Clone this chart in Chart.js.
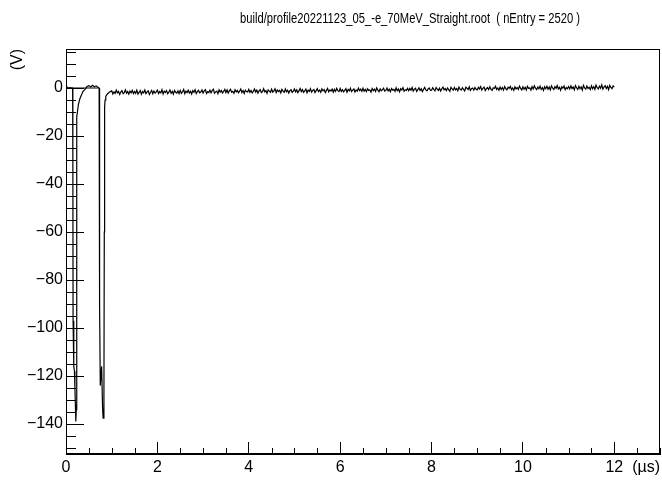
<!DOCTYPE html>
<html>
<head>
<meta charset="utf-8">
<script src="https://cdn.jsdelivr.net/npm/chart.js@4/dist/chart.umd.min.js"></script>
<style>
  body { margin: 0; background: #fff; }
  canvas { display: block; }
</style>
</head>
<body>
<canvas id="waveChart" width="662" height="480"></canvas>
<script>
// pulse region (time in us, amplitude in V)
const pulseTimes = [0, 0.01, 0.03, 0.06, 0.09, 0.12, 0.145, 0.15, 0.155, 0.165, 0.175, 0.185, 0.195, 0.205, 0.215, 0.225,
  0.232, 0.238, 0.25, 0.27, 0.3, 0.33, 0.37, 0.42, 0.46, 0.5, 0.54, 0.58, 0.62, 0.66, 0.7, 0.725, 0.735, 0.75, 0.78,
  0.8, 0.812, 0.83, 0.838, 0.845, 0.855, 0.87, 0.9, 0.94, 0.97];
const pulseValues = [1.2, 0.8, 0.1, 0, 0.2, 0, 0, -30, -97, -105, -116, -118, -125, -132, -139, -134,
  -70, -12, -10, -7, -4.7, -3.2, -1.5, -0.5, 0.6, 1.0, 0.4, 1.1, 0.5, 0.9, 0.3, 0, -90, -124, -116,
  -133, -137.6, -130, -60, -8, -5, -3.5, -2.6, -1.9, -1.5];

// flat pedestal segment drawn under the first pulse
const pedTimes = [0, 0.72];
const pedValues = [0, 0];

// tail after the pulses, one sample every 0.025 us starting at 1.0 us
const tailStart = 1.0;
const tailStep = 0.025;
const tailValues = [
  -1.2, -2.5, -1.6, -2.3, -0.9, -2.0, -1.4, -2.7, -1.7, -1.1, -2.4, -1.9, -0.8, -2.2, -1.5, -2.6, -1.3, -2.0, -1.0, -2.3,
  -1.4, -2.2, -0.9, -2.5, -1.8, -1.1, -2.6, -1.5, -2.0, -0.8, -2.3, -1.6, -1.2, -2.7, -1.9, -1.0, -2.4, -1.3, -2.1, -1.6,
  -0.9, -2.3, -1.5, -2.0, -0.7, -2.5, -1.3, -1.9, -1.1, -2.4, -1.7, -0.8, -2.2, -1.4, -2.6, -1.0, -1.8, -2.1, -1.2, -2.3,
  -1.0, -2.2, -1.6, -0.6, -2.4, -1.3, -1.9, -0.9, -2.1, -1.4, -2.5, -1.1, -1.8, -0.7, -2.3, -1.5, -1.0, -2.0, -1.7, -0.8,
  -2.1, -1.2, -0.7, -2.3, -1.5, -1.9, -0.9, -2.0, -1.1, -0.5, -2.2, -1.6, -1.3, -2.4, -0.8, -1.7, -1.0, -2.1, -1.4, -0.6,
  -1.9, -0.8, -2.1, -1.2, -0.5, -1.8, -1.4, -2.2, -0.7, -1.6, -1.0, -2.0, -1.3, -0.4, -1.9, -1.1, -2.3, -0.9, -1.5, -1.7,
  -0.6, -1.8, -1.0, -2.0, -1.4, -0.4, -1.7, -0.9, -2.1, -1.2, -0.7, -1.9, -1.5, -0.3, -1.6, -1.1, -2.2, -0.8, -1.3, -1.8,
  -0.5, -1.7, -1.2, -0.3, -1.9, -0.8, -1.5, -1.0, -2.0, -0.6, -1.3, -1.8, -0.4, -1.6, -0.9, -2.1, -1.1, -0.7, -1.8, -1.3,
  -0.4, -1.6, -0.8, -1.9, -1.1, -0.2, -1.5, -0.7, -1.8, -1.2, -0.5, -2.0, -0.9, -1.4, -0.3, -1.7, -1.0, -0.6, -1.9, -1.1,
  -0.3, -1.5, -0.9, -1.8, -0.4, -1.2, -0.7, -1.9, -1.0, -0.2, -1.6, -0.8, -1.3, -0.5, -1.7, -0.6, -1.4, -0.1, -1.1, -1.5,
  -0.2, -1.4, -0.7, -1.6, -1.0, -0.3, -1.8, -0.6, -1.2, -0.1, -1.5, -0.9, -0.4, -1.7, -0.8, -1.3, 0.0, -1.1, -0.5, -1.4,
  -0.1, -1.3, -0.6, -1.5, -0.3, -1.0, -0.8, -1.7, -0.2, -1.1, -0.5, -1.4, 0.1, -0.9, -1.6, -0.4, -1.2, -0.7, -0.1, -1.3,
  -1.0, 0.0, -1.2, -0.5, -1.5, -0.2, -0.9, -0.6, -1.4, 0.1, -1.1, -0.4, -1.6, -0.3, -0.8, 0.2, -1.3, -0.7, -1.0, -0.1,
  -1.1, -0.2, -0.9, 0.2, -1.3, -0.5, -0.1, -1.4, -0.7, 0.1, -1.0, -0.3, -1.5, -0.6, 0.3, -0.8, -1.2, -0.4, 0.0, -1.0,
  -0.9, 0.1, -0.6, -1.2, 0.2, -0.5, -1.0, -0.1, -1.3, -0.3, 0.4, -0.8, -0.2, -1.1, 0.0, -0.7, -1.4, 0.3, -0.4, -0.9,
  0.2, -0.8, -0.2, -1.1, 0.4, -0.5, -0.9, 0.1, -0.6, -1.2, 0.3, -0.1, -0.7, 0.5, -1.0, -0.3, 0.0, -0.9, 0.2, -0.5,
  -0.8, 0.3, -0.4, 0.6, -0.9, -0.1, 0.4, -1.1, -0.3, 0.2, -0.7, 0.5, -0.5, -1.0, 0.1, -0.2, 0.7, -0.6, 0.0, -0.9,
  0.4, -0.6, 0.2, -0.9, 0.6, -0.3, -0.8, 0.3, -0.1, 0.7, -0.7, 0.0, -1.0, 0.5, -0.4, 0.2, -0.6, 0.8, -0.2, -0.8,
  0.5, -0.5, 0.3, -0.8, 0.7, -0.2, 0.1, -0.9, 0.6, -0.4, 0.9, -0.1, -0.7, 0.4, -0.3, 0.8, -0.6, 0.2, -1.0, 0.5,
  -0.3, 0.7, -0.5, 0.4, -0.8, 0.9, 0.0, -0.6, 0.6, -0.2, 1.0, -0.4, 0.3, -0.9, 0.5, -0.1, 0.8, -0.7, 0.2, -0.3,
  0.6, -0.4, 0.9, -0.2, 0.4, -0.8, 1.0, 0.1, -0.6, 0.7, -0.3, 0.5, -0.9, 1.1, 0.0, -0.5, 0.8, -0.2, 0.3, -0.7,
  0.9, -0.3, 0.6, -0.6, 1.2, 0.1, -0.4, 0.8, -0.1, 1.3, -0.5, 0.4, 1.0, -0.2, 0.7, -0.7, 1.1, 0.2, -0.3, 0.9,
  0.4
];

const xMin = 0, xMax = 13;
const yMin = -152.5, yMax = 16.25;
const titleText = 'build/profile20221123_05_-e_70MeV_Straight.root  ( nEntry = 2520 )';

let wave = pulseTimes.map((t, i) => ({ x: t, y: pulseValues[i] }));
tailValues.forEach((v, i) => wave.push({ x: tailStart + i * tailStep, y: v }));
let ped = pedTimes.map((t, i) => ({ x: t, y: pedValues[i] }));

const fontFam = "'Liberation Sans', Arial, sans-serif";

function minusLabel(v) {
    return v < 0 ? '\u2212' + Math.abs(v) : String(v);
}

// frame, ROOT style minor ticks (inside the frame) and the pad title
const frameTicks = {
    id: 'frameTicks',
    afterDraw(chart) {
        const { ctx, chartArea: a, scales } = chart;
        ctx.save();
        ctx.strokeStyle = '#000';
        ctx.lineWidth = 1;
        ctx.beginPath();
        for (let v = xMin; v <= xMax; v += 0.5) {
            if (v % 2 === 0) continue;
            let px = Math.round(scales.x.getPixelForValue(v)) + 0.5;
            ctx.moveTo(px, a.bottom);
            ctx.lineTo(px, a.bottom - 6);
        }
        for (let v = -150; v <= 15; v += 5) {
            if (v % 20 === 0) continue;
            let py = Math.round(scales.y.getPixelForValue(v)) + 0.5;
            ctx.moveTo(a.left, py);
            ctx.lineTo(a.left + 10, py);
        }
        ctx.stroke();
        ctx.strokeRect(Math.round(a.left) + 0.5, Math.round(a.top) + 0.5,
            Math.round(a.right - a.left) - 1, Math.round(a.bottom - a.top) - 1);

        // title: narrow face like the ROOT pad title, right of centre
        ctx.fillStyle = '#000';
        ctx.font = '14px ' + fontFam;
        ctx.textAlign = 'center';
        ctx.textBaseline = 'middle';
        ctx.translate(410, 19);
        ctx.scale(0.8, 1);
        ctx.fillText(titleText, 0, 0);
        ctx.restore();
    }
};

new Chart(document.getElementById('waveChart'), {
    type: 'scatter',
    data: {
        datasets: [{
            data: ped,
            showLine: true,
            borderColor: '#000',
            borderWidth: 1,
            pointRadius: 0
        }, {
            data: wave,
            showLine: true,
            borderColor: '#000',
            borderWidth: 1.2,
            pointRadius: 0,
            tension: 0
        }]
    },
    options: {
        responsive: false,
        animation: false,
        devicePixelRatio: 1,
        layout: { padding: { left: 0, right: 2, top: 49, bottom: 0 } },
        plugins: {
            legend: { display: false },
            tooltip: { enabled: false },
            title: { display: false }
        },
        scales: {
            x: {
                type: 'linear',
                min: xMin,
                max: xMax,
                afterFit: s => { s.height = 26; s.paddingLeft = 0; s.paddingRight = 0; },
                border: { display: true, color: '#000', width: 1 },
                grid: { drawOnChartArea: false, drawTicks: true, tickLength: -12, color: '#000' },
                ticks: {
                    stepSize: 2,
                    includeBounds: false,
                    color: '#000',
                    padding: 16,
                    maxRotation: 0,
                    font: { family: fontFam, size: 16 },
                    callback: minusLabel
                },
                title: {
                    display: true,
                    text: '(\u00b5s)',
                    align: 'end',
                    color: '#000',
                    font: { family: fontFam, size: 16 },
                    padding: { top: 0, bottom: 3 }
                }
            },
            y: {
                type: 'linear',
                min: yMin,
                max: yMax,
                afterFit: s => { s.width = 66; s.paddingTop = 0; s.paddingBottom = 0; },
                border: { display: true, color: '#000', width: 1 },
                grid: { drawOnChartArea: false, drawTicks: true, tickLength: -18, color: '#000' },
                ticks: {
                    stepSize: 20,
                    includeBounds: false,
                    color: '#000',
                    padding: 21,
                    font: { family: fontFam, size: 16 },
                    callback: minusLabel
                },
                title: {
                    display: true,
                    text: '(V)',
                    align: 'end',
                    color: '#000',
                    font: { family: fontFam, size: 16 },
                    padding: { top: 8, bottom: 0 }
                }
            }
        }
    },
    plugins: [frameTicks]
});
</script>
</body>
</html>
